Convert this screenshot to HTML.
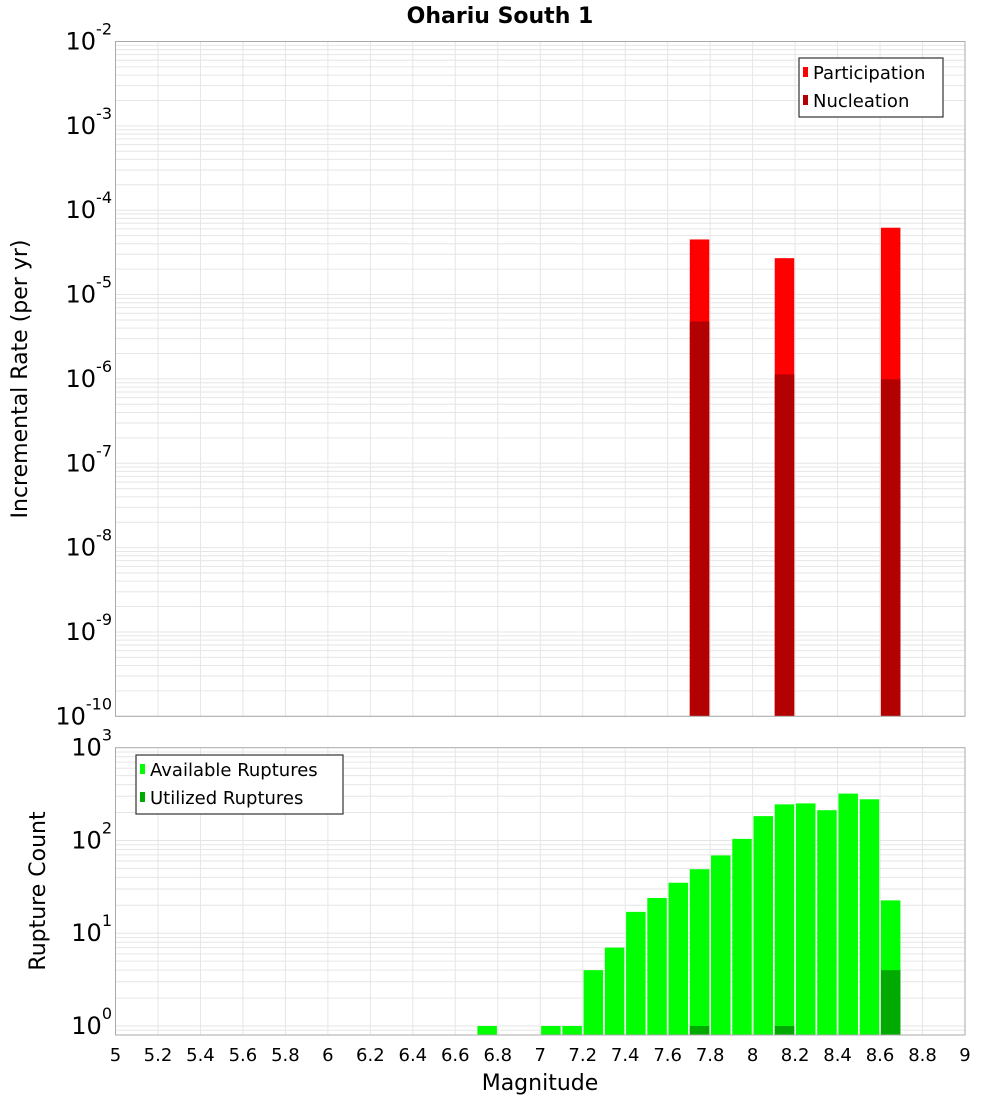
<!DOCTYPE html>
<html><head><meta charset="utf-8"><style>
body{margin:0;background:#fff;}
svg{display:block;font-family:"DejaVu Sans","Liberation Sans",sans-serif;}
</style></head><body>
<svg id="chart" width="1000" height="1100" viewBox="0 0 1000 1100" xmlns="http://www.w3.org/2000/svg">
<text x="500" y="23" text-anchor="middle" font-size="22" font-weight="bold">Ohariu South 1</text>
<g id="gtop"></g>
<g id="gbot"></g>
<text transform="translate(27,379) rotate(-90)" text-anchor="middle" font-size="22">Incremental Rate (per yr)</text>
<text transform="translate(45,891) rotate(-90)" text-anchor="middle" font-size="22">Rupture Count</text>
<text x="540" y="1090" text-anchor="middle" font-size="22">Magnitude</text>
</svg>
<script>
const rateMags = [7.75, 8.15, 8.65];
const participation = [4.5e-5, 2.7e-5, 6.2e-5];
const nucleation = [4.8e-6, 1.13e-6, 9.9e-7];
const countMags = [6.75, 7.05, 7.15, 7.25, 7.35, 7.45, 7.55, 7.65, 7.75, 7.85, 7.95, 8.05, 8.15, 8.25, 8.35, 8.45, 8.55, 8.65];
const available = [1, 1, 1, 4, 7, 17, 24, 35, 49, 69, 104, 183, 245, 251, 212, 320, 278, 22.6];
const utilizedMags = [7.75, 8.15, 8.65];
const utilized = [1, 1, 4];
const xTicks = [5,5.2,5.4,5.6,5.8,6,6.2,6.4,6.6,6.8,7,7.2,7.4,7.6,7.8,8,8.2,8.4,8.6,8.8,9];
const topExps = [-2,-3,-4,-5,-6,-7,-8,-9,-10];
const botExps = [3,2,1,0];

const NS="http://www.w3.org/2000/svg";
const L=115.5,R=965;
const xs=m=>L+(m-5)/4*(R-L);
const TT=41.5,TB=716.3,yTop=v=>TT+(-2-Math.log10(v))*(TB-TT)/8;
const BT=747.7,BB=1035,bdec=(1026-747.7)/3,yBot=v=>1026-Math.log10(v)*bdec;
function mk(p,t,a,txt){const e=document.createElementNS(NS,t);for(const k in a)e.setAttribute(k,a[k]);if(txt!==undefined)e.textContent=txt;p.appendChild(e);return e;}
const gTop=document.getElementById('gtop'),gBot=document.getElementById('gbot');
const bw=19.5;

function grid(g,yt,yb,yf,lo,hi){
  for(let e=lo;e<hi;e++)for(let k=1;k<10;k++){const v=k*Math.pow(10,e);const yy=yf(v);if(yy<yt-0.1||yy>yb+0.1)continue;
    const l=mk(g,'line',{x1:L,x2:R,y1:yy,y2:yy,stroke:'#e6e6e6','stroke-width':1});
    
    }
  xTicks.forEach(t=>{const l=mk(g,'line',{x1:xs(t),x2:xs(t),y1:yt,y2:yb,stroke:'#e6e6e6','stroke-width':1});
    
    });
}
grid(gTop,TT,TB,yTop,-10,-2);
grid(gBot,BT,BB,yBot,-1,3);

rateMags.forEach((m,i)=>{
  const r=mk(gTop,'rect',{x:xs(m)-bw/2,y:yTop(participation[i]),width:bw,height:TB-yTop(participation[i]),fill:'#ff0000'});
  
  
  const n=mk(gTop,'rect',{x:xs(m)-bw/2,y:yTop(nucleation[i]),width:bw,height:TB-yTop(nucleation[i]),fill:'#b30000'});
  
  
});
countMags.forEach((m,i)=>{
  const r=mk(gBot,'rect',{x:xs(m)-bw/2,y:yBot(available[i]),width:bw,height:BB-yBot(available[i]),fill:'#00ff00'});
  
  
});
utilizedMags.forEach((m,i)=>{
  const r=mk(gBot,'rect',{x:xs(m)-bw/2,y:yBot(utilized[i]),width:bw,height:BB-yBot(utilized[i]),fill:'#00aa00'});
  
  
});
const f1=mk(gTop,'rect',{x:L,y:TT,width:R-L,height:TB-TT,fill:'none',stroke:'#aaaaaa','stroke-width':1});


const f2=mk(gBot,'rect',{x:L,y:BT,width:R-L,height:BB-BT,fill:'none',stroke:'#aaaaaa','stroke-width':1});



function ylab(g,yy,e){
  const t=mk(g,'text',{x:112,y:yy+8,'text-anchor':'end','font-size':24});
  
  
  mk(t,'tspan',{},'10');
  mk(t,'tspan',{dy:-15,'font-size':16},String(e));
}
topExps.forEach(e=>ylab(gTop,yTop(Math.pow(10,e)),e));
botExps.forEach(e=>ylab(gBot,yBot(Math.pow(10,e)),e));
xTicks.forEach(t=>{const l=mk(gBot,'text',{x:xs(t),y:1061,'text-anchor':'middle','font-size':18},String(t));
  
  });

function legend(g,x0,y0,w,h,items,name){
  const lg=mk(g,'g',{});
  
  
  mk(lg,'rect',{x:x0,y:y0,width:w,height:h,fill:'#fff',stroke:'#333','stroke-width':1.2});
  items.forEach((it,i)=>{
    mk(lg,'rect',{x:x0+4,y:y0+9+i*28,width:5,height:10,fill:it[1]});
    const t=mk(lg,'text',{x:x0+14,y:y0+21+i*28,'font-size':18},it[0]);
    
    
  });
}
legend(gTop,799,58,144,59,[['Participation','#ff0000'],['Nucleation','#b30000']],'top-legend');
legend(gBot,136,755,207,59,[['Available Ruptures','#00ff00'],['Utilized Ruptures','#00aa00']],'bottom-legend');
</script>
</body></html>
